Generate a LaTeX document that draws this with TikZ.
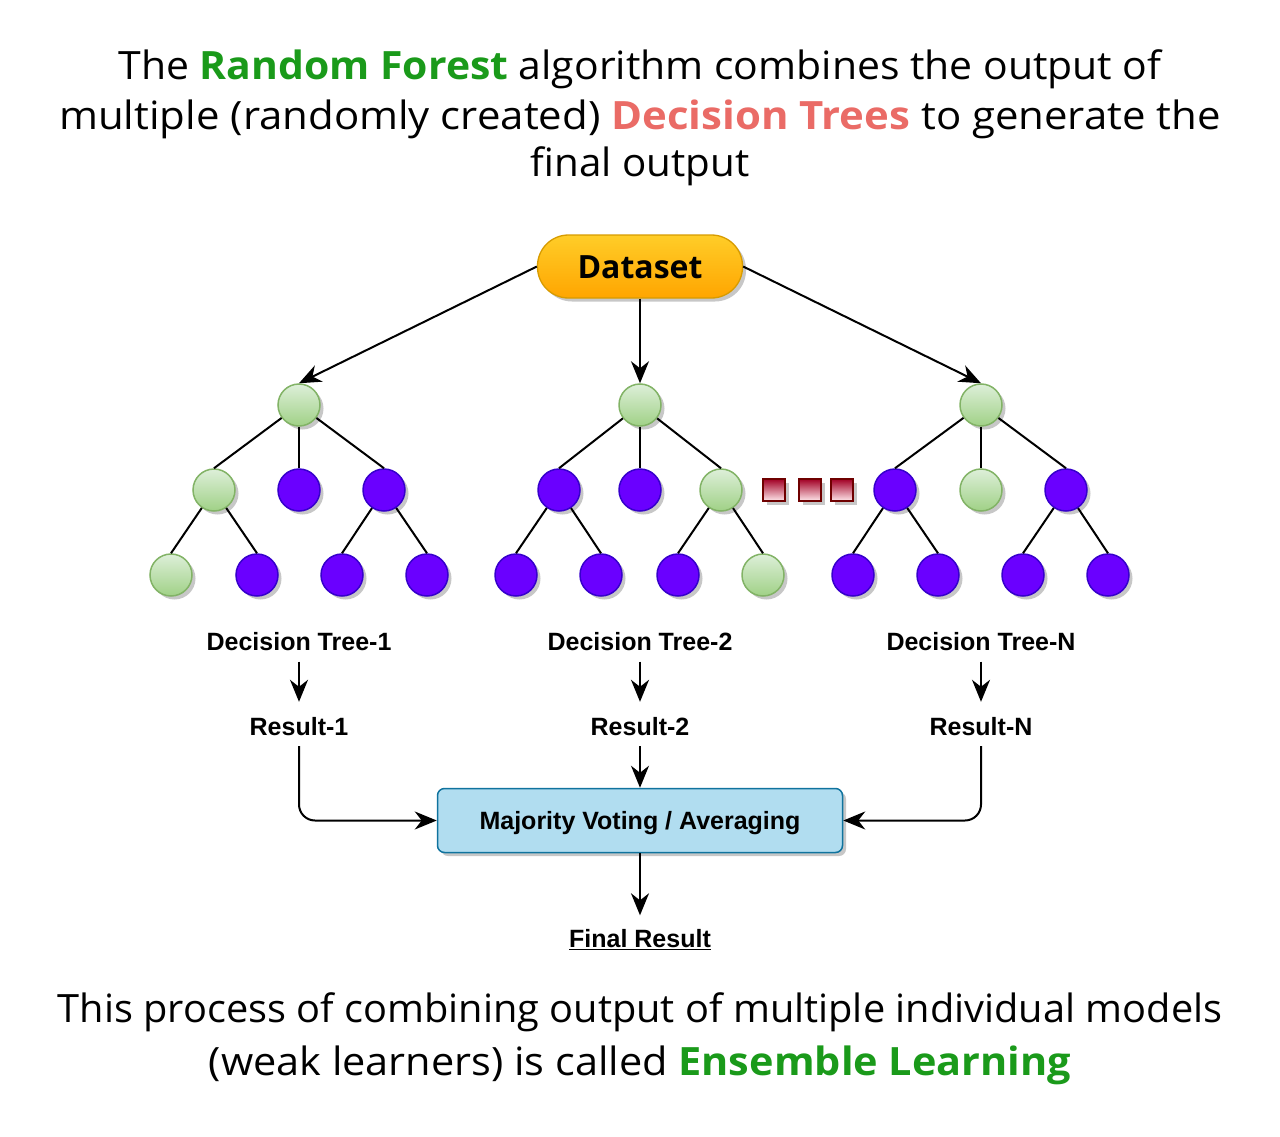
\documentclass[tikz,border=0pt]{standalone}
\usepackage{fontspec}
\setmainfont{Open Sans}
\newfontfamily\arialfont{Liberation Sans}
\usetikzlibrary{arrows.meta,shadows}
\definecolor{tgreen}{HTML}{1A9A1A}
\definecolor{tred}{HTML}{EA6B66}
\definecolor{gtop}{HTML}{DDEFD9}
\definecolor{gbot}{HTML}{A0D186}
\definecolor{gstroke}{HTML}{82B366}
\definecolor{pfill}{HTML}{6A00FF}
\definecolor{pstroke}{HTML}{3700CC}
\definecolor{dstop}{HTML}{FFCD28}
\definecolor{dsbot}{HTML}{FFA500}
\definecolor{dsstroke}{HTML}{D79B00}
\definecolor{sqtop}{HTML}{A20025}
\definecolor{sqbot}{HTML}{FFE8EC}
\definecolor{sqstroke}{HTML}{6F0000}
\definecolor{boxfill}{HTML}{B1DDF0}
\definecolor{boxstroke}{HTML}{10739E}
\begin{document}
\begin{tikzpicture}[x=1pt,y=-1pt,
  shad/.style={drop shadow={shadow xshift=3.5pt,shadow yshift=-3.5pt,fill=black,opacity=0.22}},
  gnode/.style={circle,minimum size=42pt,inner sep=0pt,draw=gstroke,line width=1.5pt,top color=gtop,bottom color=gbot,shad},
  pnode/.style={circle,minimum size=42pt,inner sep=0pt,draw=pstroke,line width=1.5pt,fill=pfill,shad},
  edgeline/.style={line width=2pt},
  arr/.style={line width=2pt,-{Stealth[length=22pt,width=18pt,inset=7pt]}},
  sqnode/.style={rectangle,minimum size=22pt,inner sep=0pt,draw=sqstroke,line width=1.5pt,top color=sqtop,bottom color=sqbot,shad},
  lbl/.style={font=\arialfont\bfseries\fontsize{25pt}{30pt}\selectfont,text height=18pt,text depth=0pt,inner xsep=2pt,inner ysep=11pt},
  headtxt/.style={anchor=base,inner sep=0pt,font=\fontsize{39pt}{46pt}\selectfont}
]
\useasboundingbox (0,0) rectangle (1280,1137);

% title
\node[headtxt] (h1) at (640,80) {\scalebox{1.049}[1]{The \textcolor{tgreen}{\bfseries Random Forest} algorithm combines the output of}};
\node[headtxt] (h2) at (640,130) {\scalebox{1.075}[1]{multiple (randomly created) \textcolor{tred}{\bfseries Decision Trees} to generate the}};
\node[headtxt] (h3) at (640,177) {\scalebox{1.034}[1]{final output}};

% dataset
\node[rectangle,rounded corners=31pt,minimum width=205pt,minimum height=63pt,draw=dsstroke,line width=1.3pt,
      top color=dstop,bottom color=dsbot,shad,text height=24pt,text depth=0pt,
      font=\bfseries\fontsize{32pt}{38pt}\selectfont] (ds) at (640,266.5) {Dataset};

% tree 1
\node[gnode] (a0) at (299,405) {};
\node[gnode] (a1) at (214,490) {};
\node[pnode] (a2) at (299,490) {};
\node[pnode] (a3) at (384,490) {};
\node[gnode] (a11) at (171,575) {};
\node[pnode] (a12) at (257,575) {};
\node[pnode] (a31) at (342,575) {};
\node[pnode] (a32) at (427,575) {};
% tree 2
\node[gnode] (b0) at (640,405) {};
\node[pnode] (b1) at (559,490) {};
\node[pnode] (b2) at (640,490) {};
\node[gnode] (b3) at (721,490) {};
\node[pnode] (b11) at (516,575) {};
\node[pnode] (b12) at (601,575) {};
\node[pnode] (b31) at (678,575) {};
\node[gnode] (b32) at (763,575) {};
% tree N
\node[gnode] (c0) at (981,405) {};
\node[pnode] (c1) at (895,490) {};
\node[gnode] (c2) at (981,490) {};
\node[pnode] (c3) at (1066,490) {};
\node[pnode] (c11) at (853,575) {};
\node[pnode] (c12) at (938,575) {};
\node[pnode] (c31) at (1023,575) {};
\node[pnode] (c32) at (1108,575) {};

% tree edges
\foreach \t in {a,b,c}{
  \draw[edgeline] (\t0) -- (\t1.north);
  \draw[edgeline] (\t0) -- (\t2.north);
  \draw[edgeline] (\t0) -- (\t3.north);
  \draw[edgeline] (\t1) -- (\t11.north);
  \draw[edgeline] (\t1) -- (\t12.north);
  \draw[edgeline] (\t3) -- (\t31.north);
  \draw[edgeline] (\t3) -- (\t32.north);
}

% dots
\node[sqnode] (s1) at (774,490) {};
\node[sqnode] (s2) at (810,490) {};
\node[sqnode] (s3) at (842,490) {};

% dataset arrows
\draw[arr] (ds.west) -- (a0.north);
\draw[arr] (ds) -- (b0.north);
\draw[arr] (ds.east) -- (c0.north);

% labels
\node[lbl] (t1) at (299,641.5) {Decision Tree-1};
\node[lbl] (t2) at (640,641.5) {Decision Tree-2};
\node[lbl] (t3) at (981,641.5) {Decision Tree-N};
\node[lbl] (r1) at (299,726) {Result-1};
\node[lbl] (r2) at (640,726) {Result-2};
\node[lbl] (r3) at (981,726) {Result-N};

\draw[arr,shorten >=4pt] (t1) -- (r1);
\draw[arr,shorten >=4pt] (t2) -- (r2);
\draw[arr,shorten >=4pt] (t3) -- (r3);

% box
\node[rectangle,rounded corners=7pt,minimum width=405pt,minimum height=64pt,draw=boxstroke,line width=1.5pt,
      fill=boxfill,shad,text height=18pt,text depth=0pt,
      font=\arialfont\bfseries\fontsize{25pt}{30pt}\selectfont] (box) at (640,820.5) {Majority Voting / Averaging};

\draw[arr] (r2) -- (box);
\draw[arr,rounded corners=16pt] (r1.south) |- (box.west);
\draw[arr,rounded corners=16pt] (r3.south) |- (box.east);

\node[lbl,inner ysep=14pt] (fin) at (640,938.5) {\underline{Final Result}};
\draw[arr] (box) -- (fin);

% bottom text
\node[headtxt] (f1) at (640,1022) {\scalebox{1.019}[1]{This process of combining output of multiple individual models}};
\node[headtxt] (f2) at (640,1075) {\scalebox{1.063}[1]{(weak learners) is called \textcolor{tgreen}{\bfseries Ensemble Learning}}};
\end{tikzpicture}
\end{document}
